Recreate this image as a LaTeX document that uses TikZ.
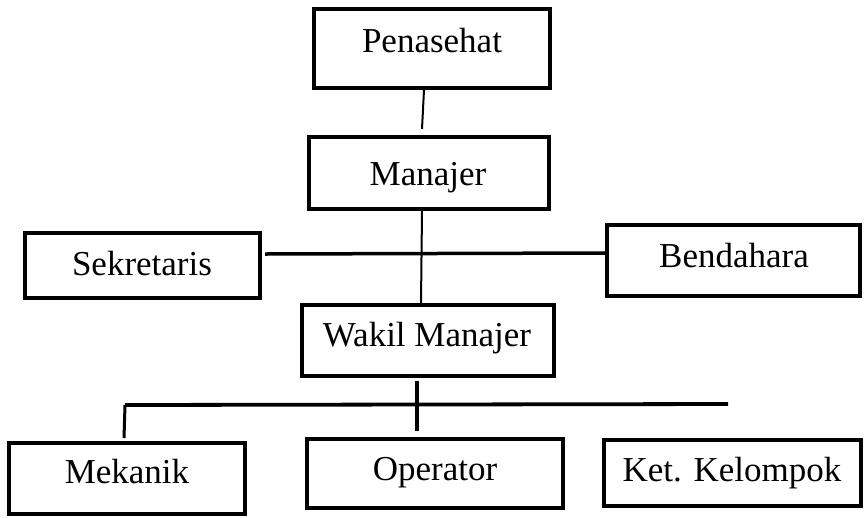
\documentclass[tikz,border=0pt]{standalone}
\usepackage{fontspec}
\setmainfont{Liberation Serif}
\begin{document}
\begin{tikzpicture}[x=1pt,y=-1pt,
  box/.style={draw=black,line width=3.8pt,rectangle,inner sep=0pt},
  lbl/.style={anchor=base,inner sep=0pt,font=\fontsize{35}{40}\selectfont},
  thinlink/.style={line width=2pt},
  thicklink/.style={line width=3.8pt}]
\useasboundingbox (0,0) rectangle (866,517);
% boxes
\node[box,minimum width=236pt,minimum height=79pt] (pen) at (432,48.5) {};
\node[box,minimum width=240pt,minimum height=72pt] (man) at (429,173) {};
\node[box,minimum width=235pt,minimum height=65pt] (sek) at (142.5,265.5) {};
\node[box,minimum width=253pt,minimum height=71pt] (ben) at (733.5,260.5) {};
\node[box,minimum width=252pt,minimum height=71pt] (wak) at (428,340.5) {};
\node[box,minimum width=236pt,minimum height=71pt] (mek) at (127,478.5) {};
\node[box,minimum width=256pt,minimum height=69pt] (ope) at (435,473.5) {};
\node[box,minimum width=257pt,minimum height=66pt] (ket) at (732.5,473) {};
% labels
\node[lbl] (pen-t) at (432,52) {Penasehat};
\node[lbl] (man-t) at (428,185) {Manajer};
\node[lbl] (sek-t) at (142,275) {Sekretaris};
\node[lbl] (ben-t) at (734,267) {Bendahara};
\node[lbl] (wak-t) at (427,346) {Wakil Manajer};
\node[lbl] (mek-t) at (127,483) {Mekanik};
\node[lbl] (ope-t) at (435,480) {Operator};
\node[lbl] (ket-t) at (732,481) {Ket. Kelompok};
% connector coordinates
\coordinate (c1) at (422,129);
\coordinate (c2) at (417,381);
\coordinate (c3) at (417,431);
\coordinate (hl) at (125,405);
\coordinate (hr) at (728,404);
\coordinate (mk) at (124,438);
\coordinate (sl) at (265,254);
% connectors
\draw[thinlink] (pen.south -| 424,0) -- (c1);
\draw[thinlink] (man.south -| 422,0) -- (wak.north -| 421,0);
\draw[line width=3.5pt] (sl) -- (ben.west |- 0,253);
\draw[thicklink] (c2) -- (c3);
\draw[thicklink] (hl) -- (hr);
\draw[line width=3pt] (hl) -- (mk);
\end{tikzpicture}
\end{document}
